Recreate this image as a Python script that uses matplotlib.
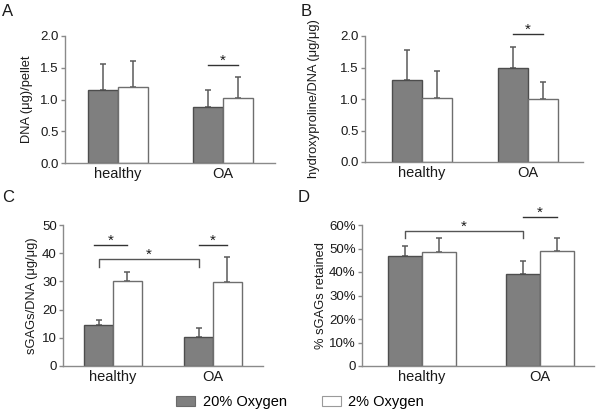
import matplotlib
matplotlib.use("Agg")
import matplotlib.pyplot as plt
from matplotlib.patches import Patch
from matplotlib.ticker import FuncFormatter

plt.rcParams['font.family'] = ['Liberation Sans', 'DejaVu Sans']

groups = ["healthy", "OA"]
series = ["20% Oxygen", "2% Oxygen"]

# Panel A: DNA (ug)/pellet
a_gray = [1.15, 0.88]
a_gray_err = [0.41, 0.27]
a_white = [1.20, 1.02]
a_white_err = [0.41, 0.33]

# Panel B: hydroxyproline/DNA
b_gray = [1.30, 1.49]
b_gray_err = [0.48, 0.34]
b_white = [1.02, 1.00]
b_white_err = [0.42, 0.27]

# Panel C: sGAGs/DNA
c_gray = [14.5, 10.2]
c_gray_err = [1.8, 3.3]
c_white = [30.0, 29.7]
c_white_err = [3.2, 8.8]

# Panel D: % sGAGs retained
d_gray = [46.8, 39.1]
d_gray_err = [4.3, 5.6]
d_white = [48.5, 48.9]
d_white_err = [5.9, 5.5]

GRAY = "#7f7f7f"
EDGE = "#4d4d4d"
WEDGE = "#6e6e6e"
SPINE = "#8a8a8a"
TXT = "#1a1a1a"

W, H = 600, 413
fig = plt.figure(figsize=(6.0, 4.13), dpi=100)

def make_ax(x0, x1, ytop, ybot):
    return fig.add_axes([x0 / W, 1 - ybot / H, (x1 - x0) / W, (ybot - ytop) / H])

bw = 0.286

def draw_panel(ax, gray, gerr, white, werr, xlim, ylim, yticks, ylabel, labx, fmt=None):
    xs = [0, 1]
    gx = [x - bw / 2 for x in xs]
    wx = [x + bw / 2 for x in xs]
    for x, v, e in zip(gx, gray, gerr):
        ax.errorbar([x], [v], yerr=[[0], [e]], fmt='none', ecolor="#5a5a5a",
                    elinewidth=1.1, capsize=2.5, capthick=1.1, zorder=1)
    for x, v, e in zip(wx, white, werr):
        ax.errorbar([x], [v], yerr=[[0], [e]], fmt='none', ecolor="#5a5a5a",
                    elinewidth=1.1, capsize=2.5, capthick=1.1, zorder=1)
    ax.bar(gx, gray, width=bw, color=GRAY, edgecolor=EDGE, linewidth=1.0, zorder=2)
    ax.bar(wx, white, width=bw, color="white", edgecolor=WEDGE, linewidth=1.0, zorder=2)
    ax.set_xlim(*xlim)
    ax.set_ylim(*ylim)
    ax.set_yticks(yticks)
    if fmt is not None:
        ax.yaxis.set_major_formatter(FuncFormatter(fmt))
    else:
        ax.yaxis.set_major_formatter(FuncFormatter(lambda v, p: f"{v:.1f}"))
    ax.set_xticks(xs)
    ax.set_xticklabels(groups, fontsize=10.5, color=TXT)
    ax.tick_params(axis='x', length=0, pad=3)
    ax.tick_params(axis='y', length=3, width=1, color=SPINE, labelsize=9.5,
                   labelcolor=TXT, pad=1.5)
    for s in ['top', 'right']:
        ax.spines[s].set_visible(False)
    for s in ['left', 'bottom']:
        ax.spines[s].set_color(SPINE)
        ax.spines[s].set_linewidth(1.0)
    ax.set_ylabel(ylabel, fontsize=9.3, color=TXT)
    ax.yaxis.set_label_coords(labx, 0.5)
    return gx, wx

def sig_line(ax, x0, x1, y, dy_star):
    ax.plot([x0, x1], [y, y], color="#333333", lw=1.0, clip_on=False)
    ax.text((x0 + x1) / 2, y + dy_star, "*", ha='center', va='bottom',
            fontsize=11, color=TXT, clip_on=False)

def bracket(ax, x0, x1, y, leg, dy_star):
    ax.plot([x0, x0, x1, x1], [y - leg, y, y, y - leg], color="#555555", lw=1.0,
            clip_on=False)
    ax.text((x0 + x1) / 2, y + dy_star, "*", ha='center', va='bottom',
            fontsize=11, color=TXT, clip_on=False)

# A
axA = make_ax(65, 275, 36, 163)
gx, wx = draw_panel(axA, a_gray, a_gray_err, a_white, a_white_err, (-0.505, 1.495),
                    (0, 2.0), [0, 0.5, 1.0, 1.5, 2.0], "DNA (\u03bcg)/pellet", -0.152)
sig_line(axA, gx[1], wx[1], 1.54, -0.04)

# B
axB = make_ax(365, 583, 36, 162)
gx, wx = draw_panel(axB, b_gray, b_gray_err, b_white, b_white_err, (-0.54, 1.52),
                    (0, 2.0), [0, 0.5, 1.0, 1.5, 2.0], "hydroxyproline/DNA (\u03bcg/\u03bcg)", -0.206)
sig_line(axB, gx[1], wx[1], 2.03, -0.04)

# C
axC = make_ax(63, 263, 225, 366)
gx, wx = draw_panel(axC, c_gray, c_gray_err, c_white, c_white_err, (-0.5, 1.5),
                    (0, 50), [0, 10, 20, 30, 40, 50], "sGAGs/DNA (\u03bcg/\u03bcg)", -0.125,
                    fmt=lambda v, p: f"{v:.0f}")
sig_line(axC, gx[0] - 0.05, wx[0], 42.9, -1.0)
sig_line(axC, gx[1], wx[1], 43.0, -1.0)
bracket(axC, gx[0], gx[1], 38.0, 2.9, -1.0)

# D
axD = make_ax(362, 594, 225, 366)
gx, wx = draw_panel(axD, d_gray, d_gray_err, d_white, d_white_err, (-0.51, 1.46),
                    (0, 60), [0, 10, 20, 30, 40, 50, 60], "% sGAGs retained", -0.151,
                    fmt=lambda v, p: "0" if v == 0 else f"{v:.0f}%")
bracket(axD, gx[0], gx[1], 57.4, 3.0, -1.2)
sig_line(axD, gx[1], wx[1], 63.4, -1.2)

# Panel letters
for lbl, x, y in [("A", 8, 12), ("B", 306, 12), ("C", 8, 198), ("D", 304, 198)]:
    fig.text(x / W, 1 - y / H, lbl, fontsize=12, ha='center', va='center', color=TXT)

handles = [Patch(facecolor=GRAY, edgecolor="#6a6a6a", linewidth=0.8),
           Patch(facecolor="white", edgecolor="#9a9a9a", linewidth=0.8)]
fig.legend(handles, series, loc='center', bbox_to_anchor=(0.5, 1 - 402 / H), ncol=2,
           frameon=False, fontsize=10.5, handlelength=1.3, handleheight=0.65,
           handletextpad=0.5, columnspacing=2.4, borderaxespad=0, borderpad=0)

fig.savefig("out.png", dpi=100)
